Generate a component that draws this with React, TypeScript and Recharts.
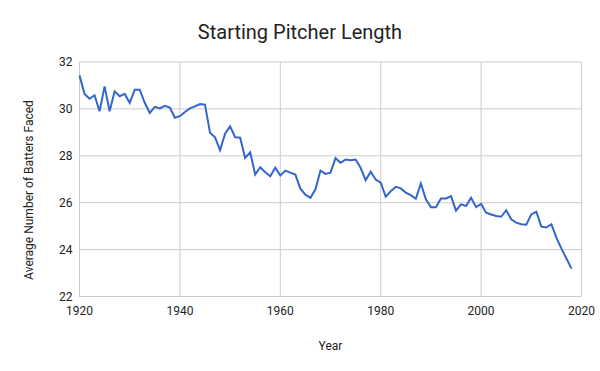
import React from 'react';
import { LineChart, Line, XAxis, YAxis, CartesianGrid } from 'recharts';

const firstYear = 1920;

// average batters faced per start, 1920..2018
const battersFaced = [
    31.43, 30.64, 30.43, 30.58, 29.9, 30.96, 29.9, 30.75, 30.54, 30.64,
    30.26, 30.82, 30.82, 30.26, 29.83, 30.09, 30.02, 30.13, 30.06, 29.62,
    29.69, 29.87, 30.02, 30.11, 30.21, 30.18, 28.98, 28.79, 28.24, 28.94,
    29.26, 28.79, 28.77, 27.91, 28.15, 27.2, 27.51, 27.3, 27.13, 27.49,
    27.16, 27.37, 27.28, 27.2, 26.6, 26.34, 26.21, 26.57, 27.37, 27.23,
    27.28, 27.9, 27.7, 27.84, 27.81, 27.84, 27.49, 26.96, 27.32, 26.99,
    26.85, 26.26, 26.49, 26.68, 26.61, 26.43, 26.32, 26.17, 26.82, 26.14,
    25.81, 25.81, 26.18, 26.18, 26.28, 25.66, 25.93, 25.86, 26.21, 25.81,
    25.95, 25.57, 25.5, 25.43, 25.4, 25.68, 25.29, 25.15, 25.08, 25.06,
    25.5, 25.62, 24.98, 24.94, 25.08, 24.51, 24.04, 23.62, 23.19,
];

const xTicks = [1920, 1940, 1960, 1980, 2000, 2020];
const yTicks = [22, 24, 26, 28, 30, 32];

const font = 'Roboto, Arial, sans-serif';

const App: React.FC = () => {
    const data = battersFaced.map((v, i) => ({ year: firstYear + i, value: v }));

    return (
        <div style={{ position: 'absolute', left: 0, top: 0, width: 600, height: 371, background: '#fff' }}>
            <LineChart
                width={600}
                height={371}
                data={data}
                margin={{ top: 62, right: 18.5, bottom: 44.5, left: 19.5 }}
            >
                <CartesianGrid stroke="#cccccc" horizontalValues={yTicks} verticalValues={xTicks} />
                <XAxis
                    dataKey="year"
                    type="number"
                    domain={[1920, 2020]}
                    ticks={xTicks}
                    tickLine={false}
                    axisLine={{ stroke: '#cccccc' }}
                    tickMargin={4}
                    height={30}
                    tick={{ fontSize: 12, fill: '#222', fontFamily: font }}
                />
                <YAxis
                    type="number"
                    domain={[22, 32]}
                    ticks={yTicks}
                    tickLine={false}
                    axisLine={false}
                    tickMargin={1}
                    width={60}
                    tick={{ fontSize: 12, fill: '#222', fontFamily: font }}
                />
                <Line
                    dataKey="value"
                    type="linear"
                    stroke="#3366cc"
                    strokeWidth={2}
                    dot={false}
                    isAnimationActive={false}
                />
            </LineChart>
            <svg
                width={600}
                height={371}
                style={{ position: 'absolute', left: 0, top: 0, pointerEvents: 'none' }}
            >
                <text x={300} y={39} textAnchor="middle" fontSize={20} fill="#222" fontFamily={font}>
                    Starting Pitcher Length
                </text>
                <text x={330.5} y={350} textAnchor="middle" fontSize={12} fill="#222" fontFamily={font}>
                    Year
                </text>
                <text
                    x={33}
                    y={190}
                    textAnchor="middle"
                    fontSize={12}
                    fill="#222"
                    fontFamily={font}
                    transform="rotate(-90 33 190)"
                >
                    Average Number of Batters Faced
                </text>
            </svg>
        </div>
    );
};

export default App;
